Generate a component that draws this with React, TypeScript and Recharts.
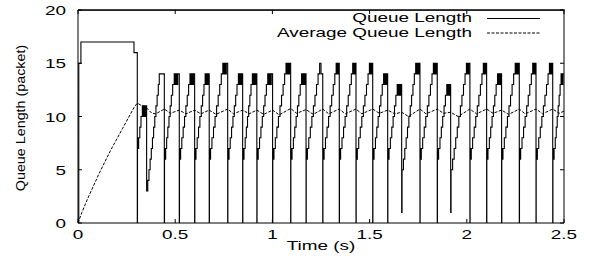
import React from "react";
import { LineChart, Line, XAxis, YAxis, Label, ReferenceLine } from "recharts";

const xTicks = [0, 0.5, 1, 1.5, 2, 2.5];
const yTicks = [0, 5, 10, 15, 20];

// instantaneous queue (time s, packets), drawn as steps
const queueLength = [
  [0, 0], [0.004, 15], [0.015, 17], [0.288, 16], [0.305, 0],
  [0.306, 7], [0.308, 8], [0.31, 7], [0.312, 8], [0.318, 9], [0.324, 10], [0.331, 11], [0.335, 10], [0.338, 11], [0.342, 10], [0.345, 11], [0.35, 10], [0.352, 11], [0.353, 3],
  [0.359, 4], [0.365, 5], [0.371, 6], [0.377, 7], [0.383, 8], [0.389, 9], [0.395, 10], [0.401, 11], [0.407, 12], [0.413, 13], [0.418, 14], [0.444, 0],
  [0.445, 6], [0.447, 7], [0.449, 6], [0.451, 7], [0.456, 8], [0.462, 9], [0.468, 10], [0.474, 11], [0.48, 12], [0.487, 13], [0.495, 14], [0.499, 13], [0.501, 14], [0.505, 13], [0.507, 14], [0.511, 13], [0.513, 14], [0.521, 0],
  [0.522, 6], [0.524, 7], [0.526, 6], [0.528, 7], [0.534, 8], [0.541, 9], [0.548, 10], [0.555, 11], [0.562, 12], [0.569, 13], [0.576, 14], [0.58, 13], [0.582, 14], [0.586, 13], [0.588, 14], [0.592, 13], [0.594, 14], [0.6, 0],
  [0.601, 6], [0.603, 7], [0.605, 6], [0.607, 7], [0.613, 8], [0.62, 9], [0.627, 10], [0.634, 11], [0.641, 12], [0.648, 13], [0.654, 14], [0.658, 13], [0.66, 14], [0.664, 13], [0.666, 14], [0.67, 13], [0.672, 14], [0.675, 0],
  [0.676, 6], [0.678, 7], [0.68, 6], [0.682, 7], [0.689, 8], [0.697, 9], [0.705, 10], [0.713, 11], [0.721, 12], [0.729, 13], [0.737, 14], [0.745, 15], [0.749, 14], [0.751, 15], [0.755, 14], [0.757, 15], [0.761, 14], [0.763, 15], [0.77, 0],
  [0.771, 6], [0.773, 7], [0.775, 6], [0.777, 7], [0.783, 8], [0.79, 9], [0.797, 10], [0.804, 11], [0.811, 12], [0.818, 13], [0.825, 14], [0.829, 13], [0.831, 14], [0.835, 13], [0.837, 14], [0.841, 13], [0.843, 14], [0.847, 0],
  [0.848, 6], [0.85, 7], [0.852, 6], [0.854, 7], [0.86, 8], [0.866, 9], [0.872, 10], [0.878, 11], [0.884, 12], [0.89, 13], [0.897, 14], [0.901, 13], [0.903, 14], [0.907, 13], [0.909, 14], [0.913, 13], [0.915, 14], [0.92, 0],
  [0.921, 6], [0.923, 7], [0.925, 6], [0.927, 7], [0.934, 8], [0.941, 9], [0.948, 10], [0.955, 11], [0.962, 12], [0.969, 13], [0.976, 14], [0.98, 13], [0.982, 14], [0.986, 13], [0.988, 14], [0.992, 13], [0.994, 14], [1.001, 0],
  [1.002, 6], [1.004, 7], [1.006, 6], [1.008, 7], [1.015, 8], [1.023, 9], [1.031, 10], [1.039, 11], [1.047, 12], [1.055, 13], [1.063, 14], [1.07, 15], [1.074, 14], [1.076, 15], [1.08, 14], [1.082, 15], [1.086, 14], [1.088, 15], [1.094, 0],
  [1.095, 6], [1.097, 7], [1.099, 6], [1.101, 7], [1.108, 8], [1.115, 9], [1.122, 10], [1.129, 11], [1.136, 12], [1.143, 13], [1.15, 14], [1.154, 13], [1.156, 14], [1.16, 13], [1.162, 14], [1.166, 13], [1.168, 14], [1.173, 0],
  [1.174, 6], [1.176, 7], [1.178, 6], [1.18, 7], [1.187, 8], [1.195, 9], [1.203, 10], [1.211, 11], [1.219, 12], [1.227, 13], [1.235, 14], [1.243, 15], [1.25, 14], [1.259, 0],
  [1.26, 6], [1.262, 7], [1.264, 6], [1.266, 7], [1.273, 8], [1.281, 9], [1.289, 10], [1.297, 11], [1.305, 12], [1.313, 13], [1.321, 14], [1.328, 15], [1.332, 14], [1.334, 15], [1.338, 14], [1.34, 15], [1.344, 0],
  [1.345, 6], [1.347, 7], [1.349, 6], [1.351, 7], [1.358, 8], [1.366, 9], [1.374, 10], [1.382, 11], [1.39, 12], [1.398, 13], [1.406, 14], [1.413, 15], [1.417, 14], [1.419, 15], [1.423, 14], [1.425, 15], [1.43, 0],
  [1.431, 6], [1.433, 7], [1.435, 6], [1.437, 7], [1.444, 8], [1.452, 9], [1.46, 10], [1.468, 11], [1.476, 12], [1.484, 13], [1.492, 14], [1.499, 15], [1.503, 14], [1.505, 15], [1.509, 14], [1.511, 15], [1.516, 0],
  [1.517, 6], [1.519, 7], [1.521, 6], [1.523, 7], [1.53, 8], [1.537, 9], [1.544, 10], [1.551, 11], [1.558, 12], [1.565, 13], [1.572, 14], [1.576, 13], [1.578, 14], [1.582, 13], [1.584, 14], [1.588, 13], [1.59, 14], [1.593, 0],
  [1.594, 6], [1.596, 7], [1.598, 6], [1.6, 7], [1.607, 8], [1.614, 9], [1.621, 10], [1.628, 11], [1.635, 12], [1.642, 13], [1.646, 12], [1.648, 13], [1.652, 12], [1.654, 13], [1.658, 12], [1.66, 13], [1.665, 1],
  [1.667, 5], [1.674, 6], [1.681, 7], [1.688, 8], [1.695, 9], [1.702, 10], [1.709, 11], [1.716, 12], [1.723, 13], [1.73, 14], [1.737, 15], [1.741, 14], [1.743, 15], [1.747, 14], [1.749, 15], [1.753, 14], [1.755, 15], [1.759, 0],
  [1.76, 6], [1.762, 7], [1.764, 6], [1.766, 7], [1.773, 8], [1.781, 9], [1.789, 10], [1.797, 11], [1.805, 12], [1.813, 13], [1.821, 14], [1.828, 15], [1.832, 14], [1.834, 15], [1.838, 14], [1.84, 15], [1.842, 14], [1.844, 15], [1.848, 0],
  [1.849, 6], [1.851, 7], [1.853, 6], [1.855, 7], [1.862, 8], [1.869, 9], [1.876, 10], [1.883, 11], [1.89, 12], [1.897, 13], [1.901, 12], [1.903, 13], [1.907, 12], [1.909, 13], [1.913, 12], [1.915, 13], [1.917, 1],
  [1.919, 5], [1.927, 6], [1.935, 7], [1.943, 8], [1.951, 9], [1.959, 10], [1.967, 11], [1.975, 12], [1.983, 13], [1.991, 14], [1.998, 15], [2.002, 14], [2.004, 15], [2.008, 14], [2.01, 15], [2.016, 0],
  [2.017, 6], [2.019, 7], [2.021, 6], [2.023, 7], [2.03, 8], [2.038, 9], [2.046, 10], [2.054, 11], [2.062, 12], [2.07, 13], [2.078, 14], [2.085, 15], [2.089, 14], [2.091, 15], [2.095, 14], [2.097, 15], [2.102, 0],
  [2.103, 6], [2.105, 7], [2.107, 6], [2.109, 7], [2.116, 8], [2.123, 9], [2.13, 10], [2.137, 11], [2.144, 12], [2.151, 13], [2.158, 14], [2.162, 13], [2.164, 14], [2.168, 13], [2.17, 14], [2.174, 13], [2.176, 14], [2.179, 0],
  [2.18, 6], [2.182, 7], [2.184, 6], [2.186, 7], [2.193, 8], [2.201, 9], [2.209, 10], [2.217, 11], [2.225, 12], [2.233, 13], [2.241, 14], [2.249, 15], [2.253, 14], [2.255, 15], [2.259, 14], [2.261, 15], [2.265, 14], [2.267, 15], [2.27, 0],
  [2.271, 6], [2.273, 7], [2.275, 6], [2.277, 7], [2.284, 8], [2.292, 9], [2.3, 10], [2.308, 11], [2.316, 12], [2.324, 13], [2.332, 14], [2.339, 15], [2.343, 14], [2.345, 15], [2.349, 14], [2.351, 15], [2.356, 0],
  [2.357, 6], [2.359, 7], [2.361, 6], [2.363, 7], [2.37, 8], [2.378, 9], [2.386, 10], [2.394, 11], [2.402, 12], [2.41, 13], [2.418, 14], [2.425, 15], [2.429, 14], [2.431, 15], [2.435, 14], [2.437, 15], [2.442, 0],
  [2.443, 6], [2.445, 7], [2.447, 6], [2.449, 7], [2.455, 8], [2.46, 9], [2.465, 10], [2.47, 11], [2.475, 12], [2.48, 13], [2.485, 14], [2.488, 13], [2.49, 14], [2.493, 13], [2.495, 14], [2.5, 14],
];

// averaged queue (time s, packets)
const averageQueue = [
  [0, 0], [0.02, 1.0], [0.05, 2.3], [0.08, 3.5], [0.11, 4.7], [0.14, 5.8], [0.17, 6.9], [0.2, 7.9], [0.23, 8.9], [0.26, 9.9], [0.29, 10.9], [0.305, 11.25],
  [0.33, 11.0], [0.353, 10.8], [0.38, 10.3], [0.4, 10.25], [0.444, 10.7], [0.475, 10.3], [0.521, 10.6], [0.555, 10.25], [0.6, 10.6], [0.632, 10.25],
  [0.675, 10.6], [0.71, 10.2], [0.77, 10.7], [0.8, 10.25], [0.847, 10.6], [0.88, 10.25], [0.92, 10.6], [0.955, 10.2], [1.001, 10.6], [1.035, 10.15],
  [1.094, 10.75], [1.125, 10.3], [1.173, 10.65], [1.21, 10.2], [1.259, 10.7], [1.29, 10.25], [1.344, 10.7], [1.375, 10.25], [1.43, 10.7], [1.46, 10.25],
  [1.516, 10.7], [1.55, 10.3], [1.593, 10.6], [1.63, 10.25], [1.665, 10.4], [1.7, 10.0], [1.759, 10.7], [1.79, 10.25], [1.848, 10.7], [1.88, 10.3],
  [1.917, 10.4], [1.955, 10.0], [2.016, 10.7], [2.05, 10.25], [2.102, 10.7], [2.135, 10.3], [2.179, 10.6], [2.215, 10.2], [2.27, 10.7], [2.3, 10.25],
  [2.356, 10.7], [2.39, 10.25], [2.442, 10.7], [2.475, 10.3], [2.5, 10.5],
];

const queueData = queueLength.map(([t, q]) => ({ t, q }));
const averageData = averageQueue.map(([t, q]) => ({ t, q }));

const FONT = "'Liberation Sans', Arial, Helvetica, sans-serif";
const SX = 1.4; // glyphs in the picture are drawn wide

// plot frame (px)
const PLOT_LEFT = 78;
const PLOT_RIGHT = 564;
const PLOT_TOP = 10;

const XTick = (props: any) => {
  const { x, y, payload } = props;
  return (
    <text transform={`translate(${x},${y + 16}) scale(${SX},1)`} textAnchor="middle" fontSize={13.5} fontFamily={FONT} fill="#000">
      {payload.value}
    </text>
  );
};

const YTick = (props: any) => {
  const { x, y, payload } = props;
  return (
    <text transform={`translate(${x},${y + 5}) scale(${SX},1)`} textAnchor="end" fontSize={13.5} fontFamily={FONT} fill="#000">
      {payload.value}
    </text>
  );
};

const NoLabel = () => <g />;

// legend plus the top edge of the frame
const Overlay = () => (
  <svg width={590} height={45} style={{ position: "absolute", left: 0, top: 0, pointerEvents: "none" }}>
    <rect x={PLOT_LEFT} y={PLOT_TOP - 0.5} width={PLOT_RIGHT - PLOT_LEFT + 1} height={1.2} fill="#000" />
    {xTicks.map((v) => {
      const px = PLOT_LEFT + ((PLOT_RIGHT - PLOT_LEFT) * v) / xTicks[xTicks.length - 1];
      return <rect key={v} x={px - 0.5} y={PLOT_TOP} width={1} height={4} fill="#000" />;
    })}
    <g fontSize={13.5} fontFamily={FONT} fill="#000">
      <text transform={`translate(472,22) scale(${SX},1)`} textAnchor="end">Queue Length</text>
      <text transform={`translate(472,37) scale(${SX},1)`} textAnchor="end">Average Queue Length</text>
    </g>
    <line x1={487} x2={540} y1={18.5} y2={18.5} stroke="#000" />
    <line x1={487} x2={540} y1={33} y2={33} stroke="#000" strokeDasharray="3 1.5" />
  </svg>
);

export default function App() {
  return (
    <div style={{ position: "absolute", left: 0, top: 0, width: 590, height: 261 }}>
      <LineChart width={590} height={261} margin={{ top: PLOT_TOP, right: 590 - PLOT_RIGHT - 1, bottom: 0, left: 0 }}>
        <XAxis
          dataKey="t"
          type="number"
          domain={[0, 2.5]}
          ticks={xTicks}
          allowDataOverflow
          height={38}
          stroke="#000"
          tickSize={-4}
          tickMargin={4}
          tick={XTick}
        >
          <Label
            content={(p: any) => {
              const vb = p.viewBox;
              return (
                <text transform={`translate(${vb.x + vb.width / 2},${vb.y + 27}) scale(${SX},1)`} textAnchor="middle" fontSize={13.5} fontFamily={FONT} fill="#000">
                  Time (s)
                </text>
              );
            }}
          />
        </XAxis>
        <YAxis
          type="number"
          domain={[0, 20]}
          ticks={yTicks}
          allowDataOverflow
          width={PLOT_LEFT}
          stroke="#000"
          tickSize={-4}
          tickMargin={16}
          tick={YTick}
        >
          <Label
            content={() => (
              <text transform="translate(24.5,118) rotate(-90) scale(1.06,1)" textAnchor="middle" fontSize={13.5} fontFamily={FONT} fill="#000">
                Queue Length (packet)
              </text>
            )}
          />
        </YAxis>
        <YAxis yAxisId="right" orientation="right" type="number" dataKey="q" domain={[0, 20]} ticks={yTicks} allowDataOverflow width={1} stroke="#000" tickSize={-4} tick={NoLabel} />
        <ReferenceLine y={20} stroke="#000" ifOverflow="visible" />
        {/* invisible series so the right axis gets drawn */}
        <Line yAxisId="right" data={averageData} dataKey="q" stroke="none" dot={false} activeDot={false} legendType="none" isAnimationActive={false} />
        <Line data={queueData} dataKey="q" name="Queue Length" type="stepAfter" stroke="#000" strokeWidth={1.1} dot={false} isAnimationActive={false} />
        <Line data={averageData} dataKey="q" name="Average Queue Length" type="linear" stroke="#000" strokeWidth={1} strokeDasharray="3 1.5" dot={false} isAnimationActive={false} />
      </LineChart>
      <Overlay />
    </div>
  );
}
